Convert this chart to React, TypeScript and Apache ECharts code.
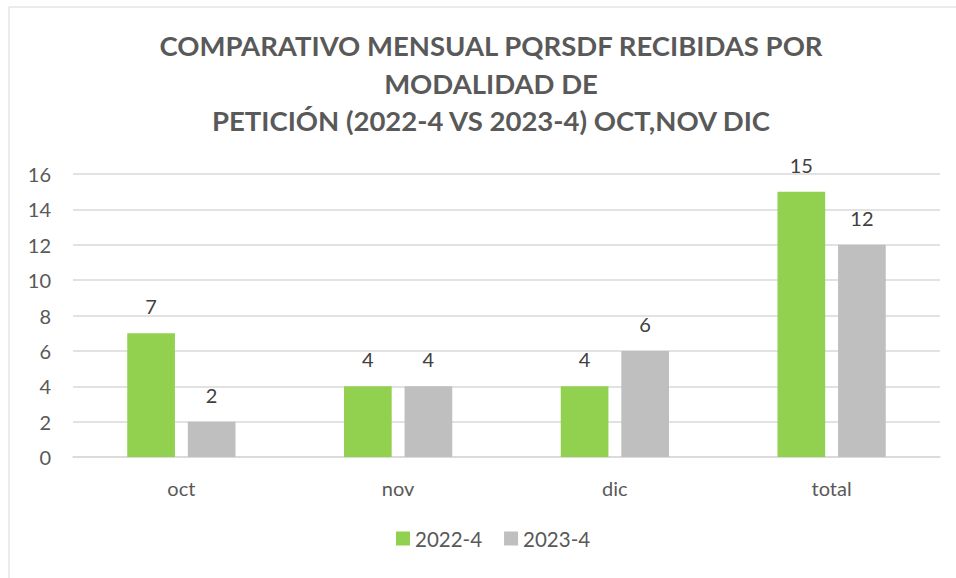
import React, { useEffect, useRef } from "react";
import * as echarts from "echarts";

const categories = ["oct", "nov", "dic", "total"];
const series2022 = [7, 4, 4, 15];
const series2023 = [2, 4, 6, 12];
const seriesNames = ["2022-4", "2023-4"];
const titleLines = [
  "COMPARATIVO MENSUAL PQRSDF RECIBIDAS POR",
  "MODALIDAD DE",
  "PETICIÓN (2022-4 VS 2023-4) OCT,NOV DIC",
];

const FONT = "Lato, 'Open Sans', sans-serif";

export default function App() {
  const ref = useRef<HTMLDivElement>(null);
  useEffect(() => {
    if (!ref.current) return;
    const chart = echarts.init(ref.current, undefined, { renderer: "svg" });
    const labelStyle = {
      show: true,
      position: "top" as const,
      distance: 17,
      color: "#404040",
      fontSize: 20,
      fontFamily: FONT,
    };
    chart.setOption({
      animation: false,
      backgroundColor: "#ffffff",
      title: {
        text: titleLines.join("\n"),
        left: 486,
        top: 22,
        textAlign: "center",
        textStyle: {
          color: "#595959",
          fontSize: 27.5,
          fontWeight: "bold",
          fontFamily: FONT,
          lineHeight: 37.5,
        },
      },
      graphic: [
        {
          type: "rect",
          shape: { x: 9, y: 7, width: 960, height: 580 },
          style: { fill: "none", stroke: "#D9D9D9", lineWidth: 1 },
          silent: true,
          z: -1,
        },
      ],
      legend: {
        data: seriesNames,
        bottom: 24,
        left: 391,
        itemWidth: 14,
        itemHeight: 14,
        itemGap: 22,
        icon: "rect",
        textStyle: { color: "#595959", fontSize: 20.5, fontFamily: FONT },
      },
      grid: { left: 73, right: 16, top: 174, bottom: 121 },
      xAxis: {
        type: "category",
        data: categories,
        axisLine: { lineStyle: { color: "#D9D9D9", width: 1.5 } },
        axisTick: { show: false },
        axisLabel: { color: "#595959", fontSize: 20, fontFamily: FONT, margin: 21 },
      },
      yAxis: {
        type: "value",
        min: 0,
        max: 16,
        interval: 2,
        axisLine: { show: false },
        axisTick: { show: false },
        axisLabel: { color: "#595959", fontSize: 20, fontFamily: FONT, margin: 22 },
        splitLine: { lineStyle: { color: "#D9D9D9", width: 1.5 } },
      },
      series: [
        {
          name: seriesNames[0],
          type: "bar",
          data: series2022,
          barWidth: "22%",
          barGap: "27%",
          itemStyle: { color: "#92D050" },
          label: labelStyle,
        },
        {
          name: seriesNames[1],
          type: "bar",
          data: series2023,
          barWidth: "22%",
          itemStyle: { color: "#BFBFBF" },
          label: labelStyle,
        },
      ],
    });
    return () => chart.dispose();
  }, []);
  return (
    <div
      ref={ref}
      style={{ position: "fixed", left: 0, top: 0, width: 956, height: 578 }}
    />
  );
}
